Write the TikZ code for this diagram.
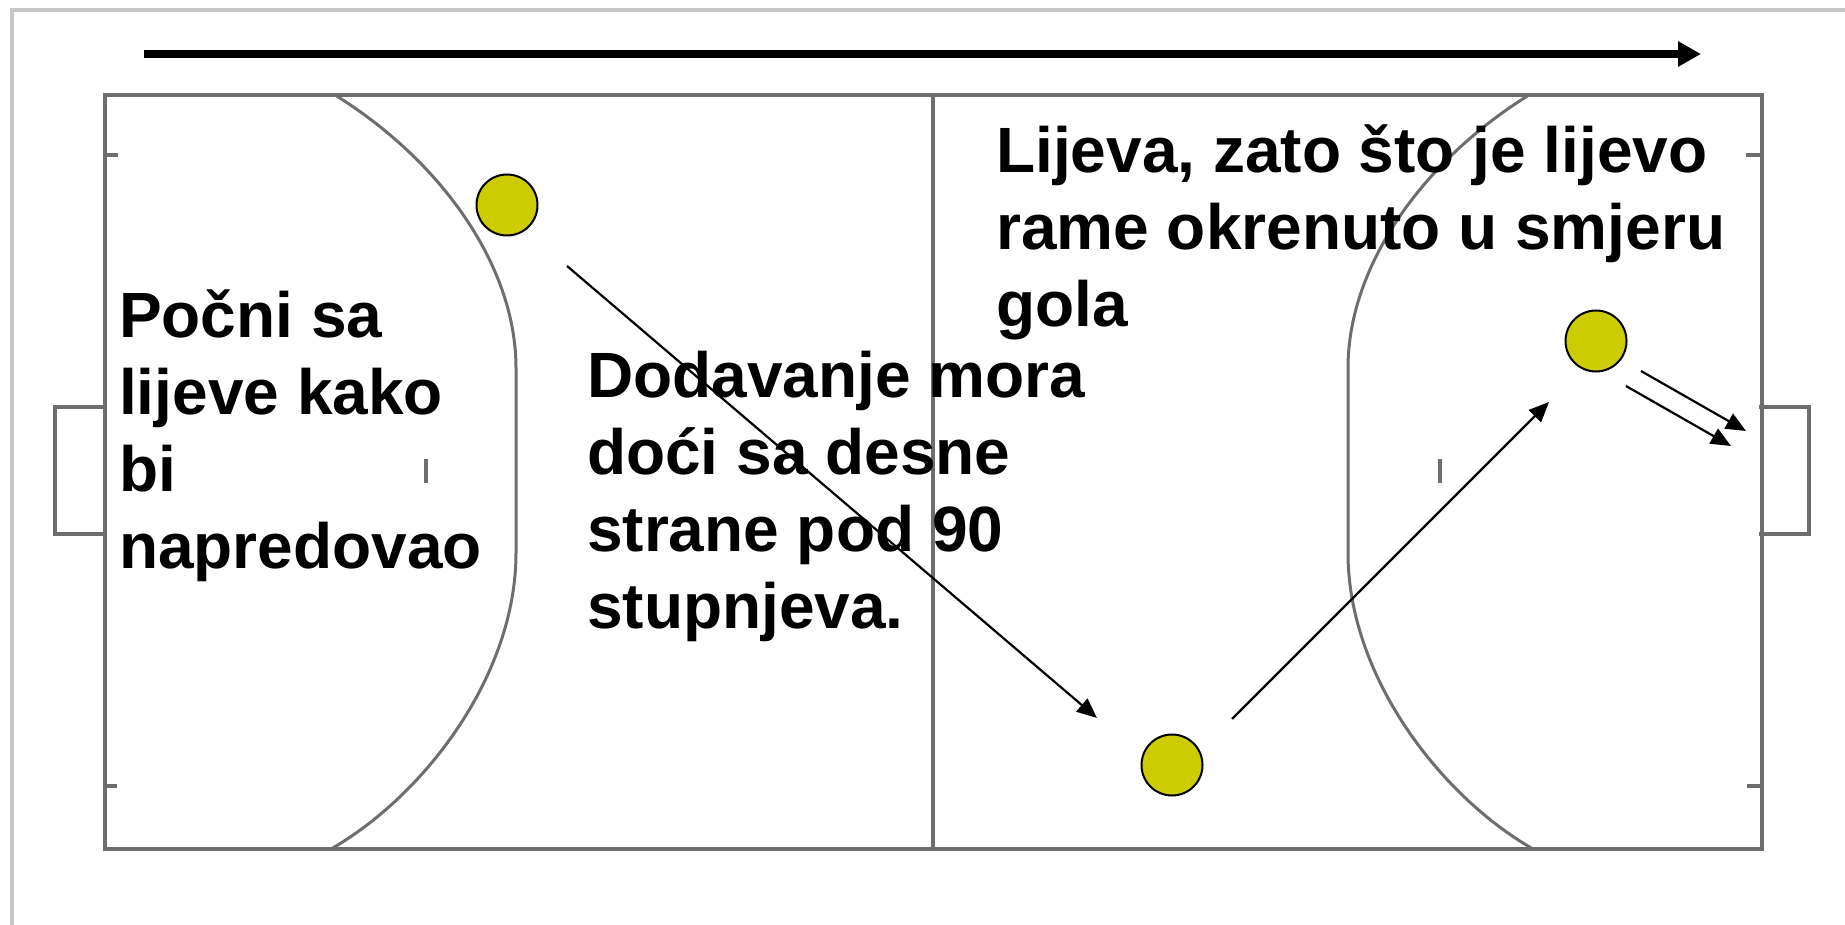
\documentclass[tikz,border=0pt]{standalone}
\usepackage{fontspec}
\setmainfont{Liberation Sans}
\usetikzlibrary{arrows.meta}
\definecolor{igrac}{HTML}{CCCC00}
\definecolor{crta}{HTML}{6E6E6E}

\begin{document}
\begin{tikzpicture}[x=1pt,y=-1pt,
                   igrac/.style={circle,draw=black,line width=2pt,fill=igrac,minimum size=61pt,inner sep=0pt},
                   tekst/.style={anchor=north west,inner sep=0pt,align=left,font=\fontsize{64}{77}\selectfont\bfseries},
                   linija/.style={draw=crta,line width=4.4pt},
                   oznaka/.style={draw=crta,line width=3.6pt},
                   luk/.style={draw=crta,line width=3pt},
                   smjer/.style={-{Triangle[length=20pt,width=17pt]},line width=2.2pt}]
\useasboundingbox (0,0) rectangle (1845,925);
\draw[draw=black!22,line width=3.4pt] (12,925) -- (12,10) -- (1845,10);

\draw[linija] (105,95) rectangle (1762,849);
\draw[linija] (933,95) -- (933,849);
\foreach \okret/\pomak in {1/0,-1/1864}{
\begin{scope}[xshift=\pomak pt,xscale=\okret]
\draw[oznaka] (105,407) -- (55,407) -- (55,534) -- (105,534);
\draw[oznaka] (103,155) -- (118,155);
\draw[oznaka] (103,786) -- (117,786);
\draw[luk] (335,95) .. controls (440,160) and (516,265) .. (516,368) -- (516,553) .. controls (516,675) and (425,795) .. (331,849);
\end{scope}
}
\draw[oznaka] (426,459) -- (426,483);
\draw[oznaka] (1440,459) -- (1440,483);

\coordinate (a1) at (144,54);
\coordinate (a2) at (1701,54);
\draw[-{Triangle[length=23pt,width=24pt]},line width=8.4pt] (a1) -- (a2);

\node[igrac] (p1) at (507,205) {};
\node[igrac] (p2) at (1172,765) {};
\node[igrac] (p3) at (1596,341) {};

\coordinate (b1) at (567,266);
\coordinate (b2) at (1097,718);
\coordinate (c1) at (1232,719);
\coordinate (c2) at (1549,402);
\coordinate (d1) at (1641,371);
\coordinate (d2) at (1746,431);
\coordinate (e1) at (1626,386);
\coordinate (e2) at (1731,446);
\draw[smjer] (b1) -- (b2);
\draw[smjer] (c1) -- (c2);
\draw[smjer] (d1) -- (d2);
\draw[smjer] (e1) -- (e2);

\node[tekst] (t1) at (119,290) {Počni sa\\lijeve kako\\bi\\napredovao};
\node[tekst] (t2) at (587,351) {Dodavanje mora\\doći sa desne\\strane pod 90\\stupnjeva.};
\node[tekst] (t3) at (996,125) {Lijeva, zato što je lijevo\\rame okrenuto u smjeru\\gola};
\end{tikzpicture}
\end{document}
